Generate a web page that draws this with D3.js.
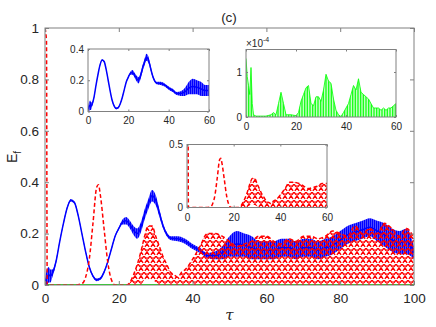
<!DOCTYPE html>
<html>
<head>
<meta charset="utf-8">
<script src="https://cdn.jsdelivr.net/npm/d3@7"></script>
<style>
body { margin: 0; background: #fff; }
svg { font-family: "Liberation Sans", Arial, sans-serif; }
</style>
</head>
<body>
<div id="chart"></div>
<script>
// blue mode: envelope (lo / hi)
var blueT  = [0, 0.5, 1, 1.5, 2, 3, 4, 5, 6, 7, 8, 9, 10, 11, 12, 13, 14, 15, 16, 17, 18, 19, 20, 21, 22, 23, 24, 25, 26, 27, 28, 29, 30, 31, 32, 33, 34, 36, 38, 40, 42, 44, 46, 48, 50, 52, 54, 56, 58, 60, 62, 64, 66, 68, 70, 72, 74, 76, 78, 80, 82, 84, 86, 88, 90, 92, 94, 96, 98, 100];
var blueLo = [0, 0, 0.01, 0.01, 0.03, 0.085, 0.165, 0.235, 0.295, 0.325, 0.315, 0.265, 0.195, 0.125, 0.065, 0.03, 0.015, 0.02, 0.045, 0.085, 0.135, 0.185, 0.215, 0.235, 0.235, 0.22, 0.195, 0.18, 0.205, 0.255, 0.295, 0.325, 0.31, 0.265, 0.22, 0.19, 0.175, 0.17, 0.16, 0.14, 0.125, 0.105, 0.1, 0.1, 0.11, 0.11, 0.11, 0.1, 0.1, 0.1, 0.1, 0.11, 0.11, 0.1, 0.11, 0.11, 0.1, 0.11, 0.12, 0.14, 0.16, 0.17, 0.18, 0.19, 0.17, 0.15, 0.13, 0.12, 0.12, 0.1];
var blueHi = [0.02, 0.06, 0.07, 0.06, 0.06, 0.1, 0.175, 0.245, 0.305, 0.335, 0.325, 0.275, 0.205, 0.135, 0.075, 0.04, 0.025, 0.03, 0.055, 0.095, 0.145, 0.195, 0.225, 0.255, 0.265, 0.25, 0.23, 0.22, 0.245, 0.295, 0.335, 0.37, 0.35, 0.295, 0.24, 0.205, 0.19, 0.19, 0.18, 0.16, 0.145, 0.125, 0.13, 0.15, 0.19, 0.21, 0.2, 0.19, 0.17, 0.17, 0.17, 0.18, 0.18, 0.17, 0.18, 0.18, 0.17, 0.18, 0.19, 0.21, 0.23, 0.24, 0.25, 0.26, 0.25, 0.24, 0.22, 0.21, 0.22, 0.15];

// red mode
var redT  = [0, 0.4, 0.6, 2, 4, 6, 8, 10, 11, 12, 13, 14, 14.5, 15, 16, 17, 18, 19, 20, 22, 23, 24, 25, 26, 27, 28, 29, 30, 31, 32, 33, 34, 35, 36, 37, 38, 40, 42, 44, 46, 48, 50, 52, 54, 56, 58, 60, 62, 64, 66, 68, 70, 72, 74, 76, 78, 80, 82, 84, 86, 88, 90, 92, 94, 96, 98, 100];
var redLo = [1, 0.95, 0, 0, 0, 0, 0, 0.005, 0.03, 0.1, 0.24, 0.38, 0.39, 0.35, 0.22, 0.09, 0.02, 0, 0, 0, 0, 0, 0, 0, 0.02, 0.02, 0.02, 0.01, 0, 0, 0, 0, 0, 0, 0, 0, 0, 0, 0, 0, 0, 0, 0, 0, 0, 0, 0, 0, 0, 0, 0, 0, 0, 0, 0, 0, 0, 0, 0, 0, 0, 0, 0, 0, 0, 0, 0];
var redHi = [1, 0.95, 0, 0, 0, 0, 0, 0.005, 0.03, 0.1, 0.24, 0.38, 0.39, 0.35, 0.22, 0.09, 0.02, 0, 0, 0, 0.01, 0.04, 0.08, 0.13, 0.19, 0.23, 0.23, 0.19, 0.15, 0.11, 0.08, 0.05, 0.04, 0.03, 0.05, 0.06, 0.1, 0.15, 0.2, 0.2, 0.19, 0.17, 0.15, 0.16, 0.17, 0.19, 0.19, 0.17, 0.16, 0.18, 0.17, 0.19, 0.19, 0.18, 0.19, 0.21, 0.2, 0.19, 0.23, 0.2, 0.22, 0.2, 0.24, 0.22, 0.19, 0.22, 0.18];

// green mode, in units of 1e-4
var greenT = [0, 0.5, 1, 1.5, 2, 2.5, 3, 4, 6, 8, 10, 11, 12, 13, 14, 15, 16, 18, 20, 21, 22, 23, 24, 25, 26, 27, 28, 29, 30, 31, 32, 33, 34, 35, 36, 37, 38, 39, 40, 41, 42, 43, 44, 45, 46, 47, 48, 49, 50, 51, 52, 53, 54, 55, 56, 57, 58, 59, 60, 70, 80, 90, 100];
var greenV = [1.3, 0.9, 0.7, 0.5, 1.1, 0.3, 0.05, 0.02, 0.02, 0.02, 0.05, 0.1, 0.05, 0.3, 0.55, 0.3, 0.05, 0.05, 0.03, 0.1, 0.35, 0.5, 0.65, 0.7, 0.3, 0.25, 0.45, 0.45, 0.35, 0.6, 0.95, 0.8, 0.75, 0.4, 0.15, 0.05, 0.01, 0.1, 0.2, 0.3, 0.5, 0.7, 0.6, 0.85, 0.55, 0.5, 0.45, 0.4, 0.3, 0.2, 0.2, 0.2, 0.15, 0.2, 0.15, 0.2, 0.2, 0.25, 0.3, 0.3, 0.3, 0.3, 0.3];

var mainXTicks = [0, 20, 40, 60, 80, 100];
var mainYTicks = [0, 0.2, 0.4, 0.6, 0.8, 1];
var insetXTicks = [0, 20, 40, 60];
var blueYTicks = [0, 0.2, 0.4];
var greenYTicks = [0, 1];
var redYTicks = [0, 0.5];

var blue = blueT.map(function(t, i) { return {t: t, lo: blueLo[i], hi: blueHi[i]}; });
var red = redT.map(function(t, i) { return {t: t, lo: redLo[i], hi: redHi[i]}; });
var green = greenT.map(function(t, i) { return {t: t, v: greenV[i]}; });

var svg = d3.select("#chart").append("svg")
	.attr("width", 436)
	.attr("height", 327);

// hatch fills for the fast oscillations
var defs = svg.append("defs");
var pr = defs.append("pattern").attr("id", "redHatch")
	.attr("patternUnits", "userSpaceOnUse").attr("width", 6).attr("height", 8);
pr.append("path").attr("d", "M0,0L6,8M6,0L0,8")
	.attr("stroke", "#ff0000").attr("stroke-width", 1.4)
	.attr("stroke-dasharray", "3.5,1.5");
pr.append("path").attr("d", "M3,1V6")
	.attr("stroke", "#ff0000").attr("stroke-width", 1.1);
var pb = defs.append("pattern").attr("id", "blueHatch")
	.attr("patternUnits", "userSpaceOnUse").attr("width", 2).attr("height", 4);
pb.append("rect").attr("width", 1.7).attr("height", 4).attr("fill", "#0000ff");
var pg = defs.append("pattern").attr("id", "greenHatch")
	.attr("patternUnits", "userSpaceOnUse").attr("width", 1.6).attr("height", 4);
pg.append("rect").attr("width", 0.9).attr("height", 4).attr("fill", "#00ff00");

var clipId = 0;
function makePanel(box, xDom, yDom) {
	var x = d3.scaleLinear().domain(xDom).range([box.x0, box.x1]);
	var y = d3.scaleLinear().domain(yDom).range([box.y1, box.y0]);
	var g = svg.append("g");
	g.append("rect")
		.attr("x", box.x0).attr("y", box.y0)
		.attr("width", box.x1 - box.x0).attr("height", box.y1 - box.y0)
		.attr("fill", "#fff");
	clipId++;
	defs.append("clipPath").attr("id", "clip" + clipId)
		.append("rect")
		.attr("x", box.x0).attr("y", box.y0)
		.attr("width", box.x1 - box.x0).attr("height", box.y1 - box.y0);
	var plot = g.append("g").attr("clip-path", "url(#clip" + clipId + ")");
	return {g: g, plot: plot, x: x, y: y, box: box};
}

function drawFrame(p, xTicks, yTicks, fs, tl, xPad, yPad, yFmt) {
	var b = p.box;
	var ax = function(sel) {
		sel.select(".domain").remove();
		sel.selectAll("line").attr("stroke", "#808080");
		sel.selectAll("text").attr("fill", "#262626").style("font-size", fs + "px");
	};
	p.g.append("g").attr("transform", "translate(0," + b.y1 + ")")
		.call(d3.axisBottom(p.x).tickValues(xTicks).tickFormat(d3.format("d"))
			.tickSizeInner(-tl).tickSizeOuter(0).tickPadding(xPad)).call(ax);
	p.g.append("g").attr("transform", "translate(0," + b.y0 + ")")
		.call(d3.axisTop(p.x).tickValues(xTicks).tickFormat("")
			.tickSizeInner(-tl).tickSizeOuter(0)).call(ax);
	p.g.append("g").attr("transform", "translate(" + b.x0 + ",0)")
		.call(d3.axisLeft(p.y).tickValues(yTicks).tickFormat(yFmt)
			.tickSizeInner(-tl).tickSizeOuter(0).tickPadding(yPad)).call(ax);
	p.g.append("g").attr("transform", "translate(" + b.x1 + ",0)")
		.call(d3.axisRight(p.y).tickValues(yTicks).tickFormat("")
			.tickSizeInner(-tl).tickSizeOuter(0)).call(ax);
	p.g.append("rect")
		.attr("x", b.x0).attr("y", b.y0)
		.attr("width", b.x1 - b.x0).attr("height", b.y1 - b.y0)
		.attr("fill", "none").attr("stroke", "#808080").attr("stroke-width", 1);
}

function drawBlue(p) {
	var area = d3.area().curve(d3.curveMonotoneX)
		.x(function(d) { return p.x(d.t); })
		.y0(function(d) { return p.y(d.lo); })
		.y1(function(d) { return p.y(d.hi); });
	var line = d3.line().curve(d3.curveMonotoneX)
		.x(function(d) { return p.x(d.t); })
		.y(function(d) { return p.y((d.lo + d.hi) / 2); });
	p.plot.append("path").datum(blue).attr("d", area).attr("fill", "url(#blueHatch)");
	p.plot.append("path").datum(blue).attr("d", line)
		.attr("fill", "none").attr("stroke", "#0000ff").attr("stroke-width", 1.5);
}

function drawRed(p) {
	var area = d3.area().curve(d3.curveMonotoneX)
		.x(function(d) { return p.x(d.t); })
		.y0(function(d) { return p.y(d.lo); })
		.y1(function(d) { return p.y(d.hi); });
	var line = d3.line().curve(d3.curveMonotoneX)
		.x(function(d) { return p.x(d.t); })
		.y(function(d) { return p.y(d.hi); });
	p.plot.append("path").datum(red).attr("d", area).attr("fill", "url(#redHatch)");
	p.plot.append("path").datum(red).attr("d", line)
		.attr("fill", "none").attr("stroke", "#ff0000").attr("stroke-width", 1.5)
		.attr("stroke-dasharray", "4,2.5");
}

function drawGreen(p, scale, filled) {
	if (filled) {
		var area = d3.area()
			.x(function(d) { return p.x(d.t); })
			.y0(p.y(0))
			.y1(function(d) { return p.y(d.v * scale); });
		p.plot.append("path").datum(green).attr("d", area).attr("fill", "url(#greenHatch)");
	}
	var line = d3.line()
		.x(function(d) { return p.x(d.t); })
		.y(function(d) { return p.y(d.v * scale); });
	p.plot.append("path").datum(green).attr("d", line)
		.attr("fill", "none").attr("stroke", "#00ff00").attr("stroke-width", filled ? 0.8 : 2);
}

// main axes
var main = makePanel({x0: 45, x1: 414, y0: 28, y1: 285}, [0, 100], [0, 1]);
drawGreen(main, 1e-4, false);
drawBlue(main);
drawRed(main);
drawFrame(main, mainXTicks, mainYTicks, 13.5, 4, 8, 6, function(d) { return d; });

svg.append("text").attr("x", 229).attr("y", 22).attr("text-anchor", "middle")
	.attr("fill", "#262626").style("font-size", "13.5px").text("(c)");
svg.append("text").attr("x", 229.5).attr("y", 320).attr("text-anchor", "middle")
	.attr("fill", "#262626").style("font-size", "15px").style("font-style", "italic")
	.attr("font-family", "DejaVu Serif, serif").text("τ");
var yl = svg.append("text").attr("transform", "translate(17,157) rotate(-90)")
	.attr("text-anchor", "middle").attr("fill", "#262626").style("font-size", "14px");
yl.append("tspan").text("E");
yl.append("tspan").attr("dy", 4).style("font-size", "10px").text("f");

// inset: blue
var insA = makePanel({x0: 88, x1: 209, y0: 49, y1: 111.5}, [0, 60], [0, 0.4]);
drawBlue(insA);
drawFrame(insA, insetXTicks, blueYTicks, 10, 2, 5, 4, function(d) { return d; });

// inset: green
var insB = makePanel({x0: 246, x1: 396, y0: 49.5, y1: 117}, [0, 60], [0, 1.5e-4]);
drawGreen(insB, 1e-4, true);
drawFrame(insB, insetXTicks, greenYTicks.map(function(d) { return d * 1e-4; }), 10, 2, 6, 4,
	function(d) { return Math.round(d * 1e4); });
var ex = svg.append("text").attr("x", 246).attr("y", 47)
	.attr("fill", "#262626").style("font-size", "10px");
ex.append("tspan").text("×10");
ex.append("tspan").attr("dy", -5).style("font-size", "7px").text("-4");

// inset: red
var insC = makePanel({x0: 187, x1: 327, y0: 144.5, y1: 207.5}, [0, 60], [0, 0.5]);
drawRed(insC);
drawFrame(insC, insetXTicks, redYTicks, 10, 2, 6, 4, function(d) { return d; });
</script>
</body>
</html>
